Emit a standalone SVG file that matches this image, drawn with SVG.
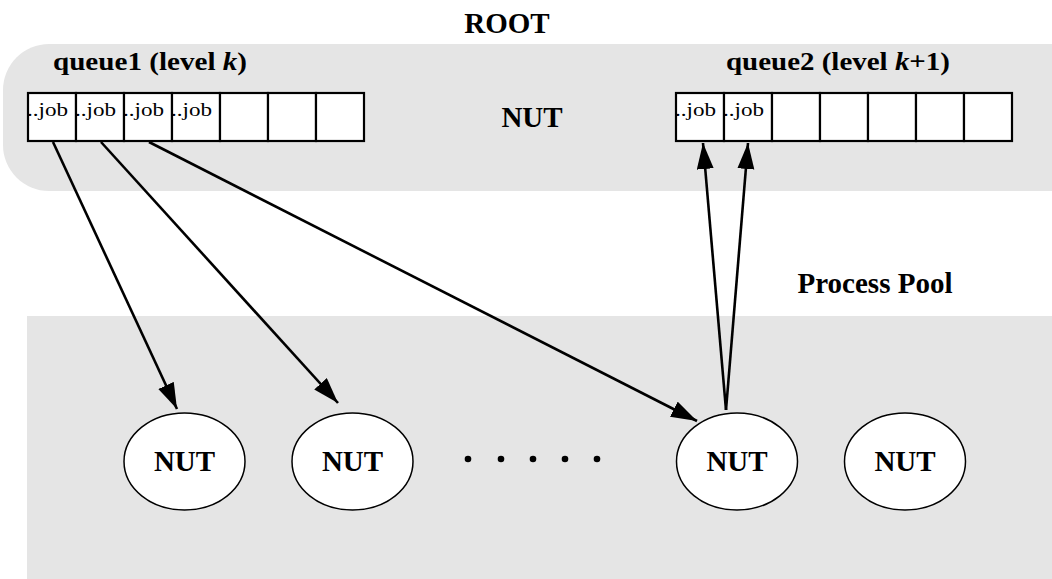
<svg xmlns="http://www.w3.org/2000/svg" width="1052" height="579" viewBox="0 0 1052 579">
  <defs>
    <marker id="arrow" markerUnits="userSpaceOnUse" markerWidth="30" markerHeight="20" refX="26" refY="8.5" orient="auto">
      <path d="M0,0 L26,8.5 L0,17 Z" fill="#000"/>
    </marker>
  </defs>
  <style>
    .label { font-family: "Liberation Serif", "Times New Roman", serif; font-weight: bold; font-size: 29px; fill: #000; }
    .qlabel { font-family: "Liberation Serif", "Times New Roman", serif; font-weight: bold; font-size: 25px; fill: #000; }
    .job { font-family: "Liberation Serif", "Times New Roman", serif; font-size: 19px; fill: #000; }
    .cell { fill: #fff; stroke: #000; stroke-width: 2.2; }
    .region { fill: #e5e5e5; }
    .nut { fill: #fff; stroke: #000; stroke-width: 1.5; }
    .edge { fill: none; stroke: #000; stroke-width: 2.6; marker-end: url(#arrow); }
  </style>

  <!-- background regions -->
  <g id="root">
    <rect class="region" x="3" y="44" width="1100" height="147" rx="46" ry="46"/>
    <text class="label" x="507" y="33" text-anchor="middle">ROOT</text>
    <text class="label" x="532" y="127" text-anchor="middle">NUT</text>
  </g>
  <g id="process-pool">
    <rect class="region" x="27" y="316" width="1025" height="263"/>
    <text class="label" x="875" y="293" text-anchor="middle">Process Pool</text>
  </g>

  <!-- queue for level k -->
  <g id="queue1">
    <text class="qlabel" x="53" y="70" textLength="194" lengthAdjust="spacingAndGlyphs">queue1 (level <tspan font-style="italic">k</tspan>)</text>
    <rect class="cell" x="28" y="93" width="48" height="48"/>
    <rect class="cell" x="76" y="93" width="48" height="48"/>
    <rect class="cell" x="124" y="93" width="48" height="48"/>
    <rect class="cell" x="172" y="93" width="48" height="48"/>
    <rect class="cell" x="220" y="93" width="48" height="48"/>
    <rect class="cell" x="268" y="93" width="48" height="48"/>
    <rect class="cell" x="316" y="93" width="48" height="48"/>
    <text class="job" x="27" y="116" textLength="41" lengthAdjust="spacingAndGlyphs">..job</text>
    <text class="job" x="75" y="116" textLength="41" lengthAdjust="spacingAndGlyphs">..job</text>
    <text class="job" x="123" y="116" textLength="41" lengthAdjust="spacingAndGlyphs">..job</text>
    <text class="job" x="171" y="116" textLength="41" lengthAdjust="spacingAndGlyphs">..job</text>
  </g>

  <!-- queue for level k+1 -->
  <g id="queue2">
    <text class="qlabel" x="726" y="70" textLength="224" lengthAdjust="spacingAndGlyphs">queue2 (level <tspan font-style="italic">k</tspan>+1)</text>
    <rect class="cell" x="676" y="93" width="48" height="48"/>
    <rect class="cell" x="724" y="93" width="48" height="48"/>
    <rect class="cell" x="772" y="93" width="48" height="48"/>
    <rect class="cell" x="820" y="93" width="48" height="48"/>
    <rect class="cell" x="868" y="93" width="48" height="48"/>
    <rect class="cell" x="916" y="93" width="48" height="48"/>
    <rect class="cell" x="964" y="93" width="48" height="48"/>
    <text class="job" x="675" y="116" textLength="41" lengthAdjust="spacingAndGlyphs">..job</text>
    <text class="job" x="723" y="116" textLength="41" lengthAdjust="spacingAndGlyphs">..job</text>
  </g>

  <!-- worker processes -->
  <g id="nut1">
    <ellipse class="nut" cx="184.5" cy="461.5" rx="60.5" ry="48.5"/>
    <text class="label" x="184.5" y="471" text-anchor="middle">NUT</text>
  </g>
  <g id="nut2">
    <ellipse class="nut" cx="352.5" cy="461.5" rx="60.5" ry="48.5"/>
    <text class="label" x="352.5" y="471" text-anchor="middle">NUT</text>
  </g>
  <g id="ellipsis">
    <circle cx="468" cy="459" r="3.3"/>
    <circle cx="501" cy="459" r="3.3"/>
    <circle cx="533" cy="459" r="3.3"/>
    <circle cx="565" cy="459" r="3.3"/>
    <circle cx="597" cy="459" r="3.3"/>
  </g>
  <g id="nut3">
    <ellipse class="nut" cx="737" cy="461.5" rx="60.5" ry="48.5"/>
    <text class="label" x="737" y="471" text-anchor="middle">NUT</text>
  </g>
  <g id="nut4">
    <ellipse class="nut" cx="905" cy="461.5" rx="60.5" ry="48.5"/>
    <text class="label" x="905" y="471" text-anchor="middle">NUT</text>
  </g>

  <!-- job dispatch and results -->
  <g id="connectors">
    <line class="edge" x1="53" y1="142" x2="177" y2="409"/>
    <line class="edge" x1="101" y1="142" x2="338" y2="403"/>
    <line class="edge" x1="149" y1="142" x2="697" y2="421"/>
    <line class="edge" x1="726" y1="410" x2="703" y2="143"/>
    <line class="edge" x1="726" y1="410" x2="748" y2="143"/>
  </g>
</svg>
